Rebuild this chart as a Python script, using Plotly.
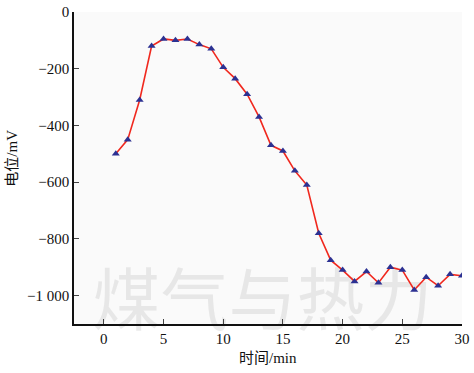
import plotly.graph_objects as go

time_min = list(range(1, 31))
potential_mv = [-500, -450, -310, -120, -95, -100, -95, -115, -130, -195,
                -235, -290, -370, -470, -490, -560, -610, -780, -875, -910,
                -950, -915, -955, -900, -910, -980, -935, -965, -925, -930]

y_ticks = [0, -200, -400, -600, -800, -1000]
y_labels = ["0", "\u2212200", "\u2212400", "\u2212600", "\u2212800", "\u22121 000"]
x_ticks = [0, 5, 10, 15, 20, 25, 30]

watermark = "煤气与热力"
x_title = "时间/min"
y_title = "电位/mV"

font_main = "Liberation Serif, Times New Roman, Noto Sans CJK SC, serif"

fig = go.Figure()

fig.add_trace(go.Scatter(
    x=[13.3], y=[-1045], mode="text", text=[watermark],
    textfont=dict(family="Noto Sans CJK SC", size=68, color="rgba(190,190,190,0.3)"),
    hoverinfo="skip", showlegend=False, cliponaxis=False))

fig.add_trace(go.Scatter(
    x=time_min, y=potential_mv, mode="lines+markers",
    line=dict(color="#f0281e", width=1.6),
    marker=dict(symbol="triangle-up", size=7, color="#2c3192"),
    showlegend=False))

fig.update_layout(
    width=474, height=373,
    margin=dict(l=74, r=12, t=12, b=49, autoexpand=False),
    paper_bgcolor="white", plot_bgcolor="#fafafa",
    font=dict(family=font_main, size=15, color="#111"),
    annotations=[
        dict(text=x_title, xref="paper", yref="paper", x=0.5, y=0, yshift=-34,
             yanchor="middle", showarrow=False, font=dict(size=15)),
        dict(text=y_title, xref="paper", yref="paper", x=0, xshift=-62, y=0.53,
             textangle=-90, xanchor="center", showarrow=False, font=dict(size=15)),
    ],
)
fig.update_xaxes(
    range=[-2.5, 30], tickvals=x_ticks, ticks="inside", ticklen=5, automargin=False,
    showline=True, linecolor="#111", linewidth=1.5, showgrid=False, zeroline=False,
    tickfont=dict(size=15),
)
fig.update_yaxes(
    range=[-1100, 0], tickvals=y_ticks, ticktext=y_labels, ticks="inside", ticklen=5,
    automargin=False,
    showline=True, linecolor="#111", linewidth=1.5, showgrid=False, zeroline=False,
    tickfont=dict(size=15),
)

fig.write_html("out.html", config={"displayModeBar": False},
               post_script="document.body.style.margin='0';")
